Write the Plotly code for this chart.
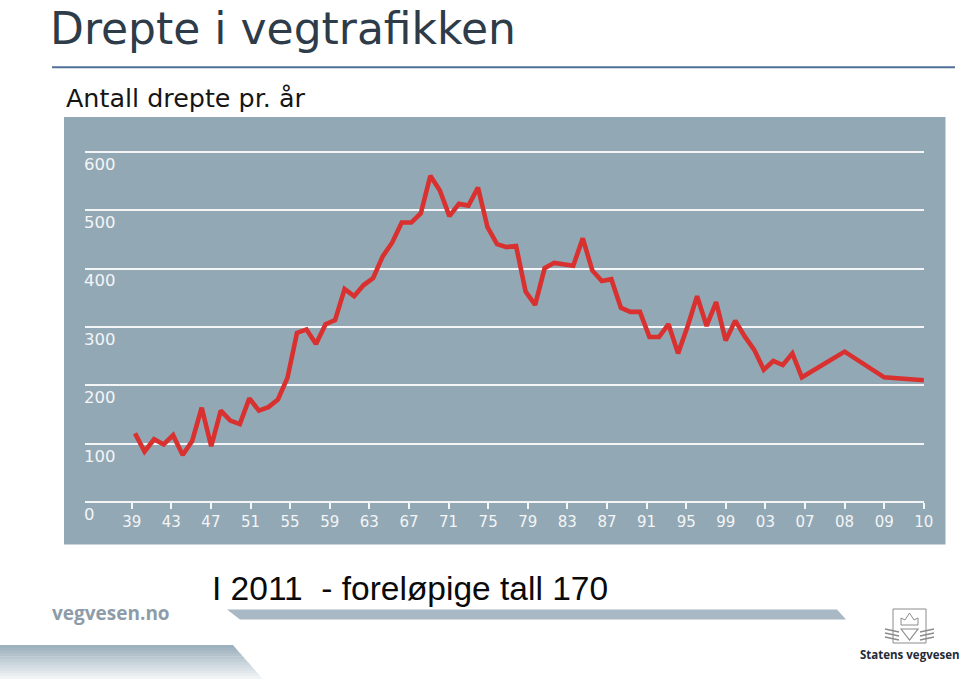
import plotly.graph_objects as go

# ---------------- data ----------------
years = list(range(1939, 2010))
deaths = [118, 87, 108, 99, 115, 81, 105, 162, 96, 157,
          140, 134, 178, 157, 163, 176, 213, 290, 296, 271,
          305, 312, 365, 353, 372, 384, 421, 445, 479, 479,
          495, 559, 534, 490, 511, 508, 539, 471, 442, 437,
          439, 361, 338, 401, 410, 408, 405, 452, 397, 379,
          382, 333, 326, 326, 283, 283, 305, 255, 301, 353,
          302, 343, 277, 311, 284, 261, 227, 242, 235, 255,
          214]
# the last three categories of the original chart (08, 09, 10)
extra_labels = ["08", "09", "10"]
extra_values = [258, 214, 209]

tick_labels = ["39", "43", "47", "51", "55", "59", "63", "67", "71", "75",
               "79", "83", "87", "91", "95", "99", "03", "07", "08", "09", "10"]
y_ticks = [0, 100, 200, 300, 400, 500, 600]

# ---------------- scale helpers ----------------
TICK0 = -0.35
TICK_STEP = 4.1575
tick_pos = [TICK0 + i * TICK_STEP for i in range(len(tick_labels))]
x_years = [y - years[0] for y in years]
x_extra = [tick_pos[tick_labels.index(l, len(tick_labels) - 3)] for l in extra_labels]

W, H = 960, 679


def px(x):
    return x / W


def py(y):
    return 1 - y / H


PANEL = "#93a8b5"
WHITE = "#f3f5f6"
RED = "#d8312f"

fig = go.Figure()
fig.add_trace(go.Scatter(
    x=x_years + x_extra,
    y=deaths + extra_values,
    mode="lines",
    line=dict(color=RED, width=4.6),
    hoverinfo="skip",
    showlegend=False,
))

shapes = []
# grey chart panel
shapes.append(dict(type="rect", xref="paper", yref="paper",
                   x0=px(64), x1=px(945.5), y0=py(544.5), y1=py(117),
                   fillcolor=PANEL, line=dict(width=0), layer="below"))
# title underline
shapes.append(dict(type="line", xref="paper", yref="paper",
                   x0=px(52), x1=px(955), y0=py(67.3), y1=py(67.3),
                   line=dict(color="#4f7096", width=2)))
# middle decorative band
shapes.append(dict(type="path", xref="paper", yref="paper",
                   path=f"M {px(227)},{py(609.5)} L {px(837)},{py(609.5)} "
                        f"L {px(846)},{py(619.5)} L {px(240)},{py(619.5)} Z",
                   fillcolor="#a8b8c4", line=dict(width=0)))
# bottom-left band (vertical gradient with strips)
top_c = (157, 176, 189)
bot_c = (240, 244, 246)
n = 12
y_top, y_bot = 645.0, 679.0
for i in range(n):
    ya = y_top + (y_bot - y_top) * i / n
    yb = y_top + (y_bot - y_top) * (i + 1) / n
    xa = 233 + (263 - 233) * (ya - y_top) / (y_bot - y_top)
    xb = 233 + (263 - 233) * (yb - y_top) / (y_bot - y_top)
    t = i / (n - 1)
    c = tuple(int(top_c[k] + (bot_c[k] - top_c[k]) * t) for k in range(3))
    shapes.append(dict(type="path", xref="paper", yref="paper",
                       path=f"M {px(0)},{py(ya)} L {px(xa)},{py(ya)} L {px(xb)},{py(yb + 0.5)} L {px(0)},{py(yb + 0.5)} Z",
                       fillcolor=f"rgb{c}", line=dict(width=0)))
# simple emblem
EMB = "#8c8c8c"
shapes.append(dict(type="rect", xref="paper", yref="paper",
                   x0=px(893), x1=px(926), y0=py(643), y1=py(609),
                   line=dict(color=EMB, width=1), fillcolor="rgba(0,0,0,0)"))
shapes.append(dict(type="path", xref="paper", yref="paper",
                   path=f"M {px(901)},{py(625)} L {px(901)},{py(618)} L {px(905)},{py(620)} L {px(909.5)},{py(613)} "
                        f"L {px(914)},{py(620)} L {px(918)},{py(618)} L {px(918)},{py(625)} Z",
                   line=dict(color=EMB, width=1), fillcolor="rgba(0,0,0,0)"))
shapes.append(dict(type="path", xref="paper", yref="paper",
                   path=f"M {px(901)},{py(629)} L {px(909.5)},{py(640)} L {px(918)},{py(629)} Z",
                   line=dict(color=EMB, width=1.2), fillcolor="rgba(0,0,0,0)"))
for dy in (629, 633, 637):
    shapes.append(dict(type="line", xref="paper", yref="paper",
                       x0=px(885), x1=px(899), y0=py(dy), y1=py(dy + 3),
                       line=dict(color=EMB, width=1.4)))
    shapes.append(dict(type="line", xref="paper", yref="paper",
                       x0=px(920), x1=px(934), y0=py(dy + 3), y1=py(dy),
                       line=dict(color=EMB, width=1.4)))

annotations = [
    dict(text="Drepte i vegtrafikken", x=px(48), y=py(28.5), xanchor="left", yanchor="middle",
         font=dict(family="DejaVu Sans", size=44, color="#2e3b48")),
    dict(text="Antall drepte pr. år", x=px(64), y=py(98), xanchor="left", yanchor="middle",
         font=dict(family="DejaVu Sans", size=25.4, color="#151515")),
    dict(text="I 2011 \u00a0- foreløpige tall 170", x=px(210), y=py(588), xanchor="left", yanchor="middle",
         font=dict(family="Liberation Sans", size=33.5, color="#0a0a0a")),
    dict(text="<b>vegvesen.no</b>", x=px(50), y=py(613), xanchor="left", yanchor="middle",
         font=dict(family="Open Sans", size=19, color="#8d9ca8")),
    dict(text="<b>Statens vegvesen</b>", x=px(909.5), y=py(654.5), xanchor="center", yanchor="middle",
         font=dict(family="Open Sans", size=11.5, color="#1f2b37")),
]
for a in annotations:
    a.update(xref="paper", yref="paper", showarrow=False)

# y range padded so the 0 and 600 gridlines are drawn
Y_LO, Y_HI = -8, 608
PX_PER_UNIT = (502.3 - 151.9) / 600

fig.update_layout(
    width=W, height=H,
    margin=dict(l=0, r=0, t=0, b=0, autoexpand=False),
    paper_bgcolor="white",
    plot_bgcolor=PANEL,
    shapes=shapes,
    annotations=annotations,
    xaxis=dict(
        domain=[px(85), px(924.3)],
        range=[-5.25, 82.85],
        tickvals=tick_pos, ticktext=tick_labels,
        ticks="outside", ticklen=6, tickwidth=2, tickcolor=WHITE,
        tickfont=dict(family="DejaVu Sans", size=15, color=WHITE),
        showgrid=False, zeroline=False, showline=False,
        anchor="free", position=py(502.3),
        automargin=False, fixedrange=True,
    ),
    yaxis=dict(
        domain=[py(502.3 - Y_LO * PX_PER_UNIT), py(502.3 - Y_HI * PX_PER_UNIT)],
        range=[Y_LO, Y_HI],
        tickvals=y_ticks,
        ticktext=[str(v) for v in y_ticks],
        showgrid=True, gridcolor=WHITE, gridwidth=2,
        zeroline=True, zerolinecolor=WHITE, zerolinewidth=2,
        showline=False, ticks="",
        ticklabelposition="inside", ticklabelshift=12, ticklabelstandoff=-4,
        ticklabeloverflow="allow",
        tickfont=dict(family="DejaVu Sans", size=16.5, color=WHITE),
        automargin=False, fixedrange=True,
    ),
)

fig.write_html("out.html", config={"displayModeBar": False},
               post_script="document.body.style.margin='0px';")
